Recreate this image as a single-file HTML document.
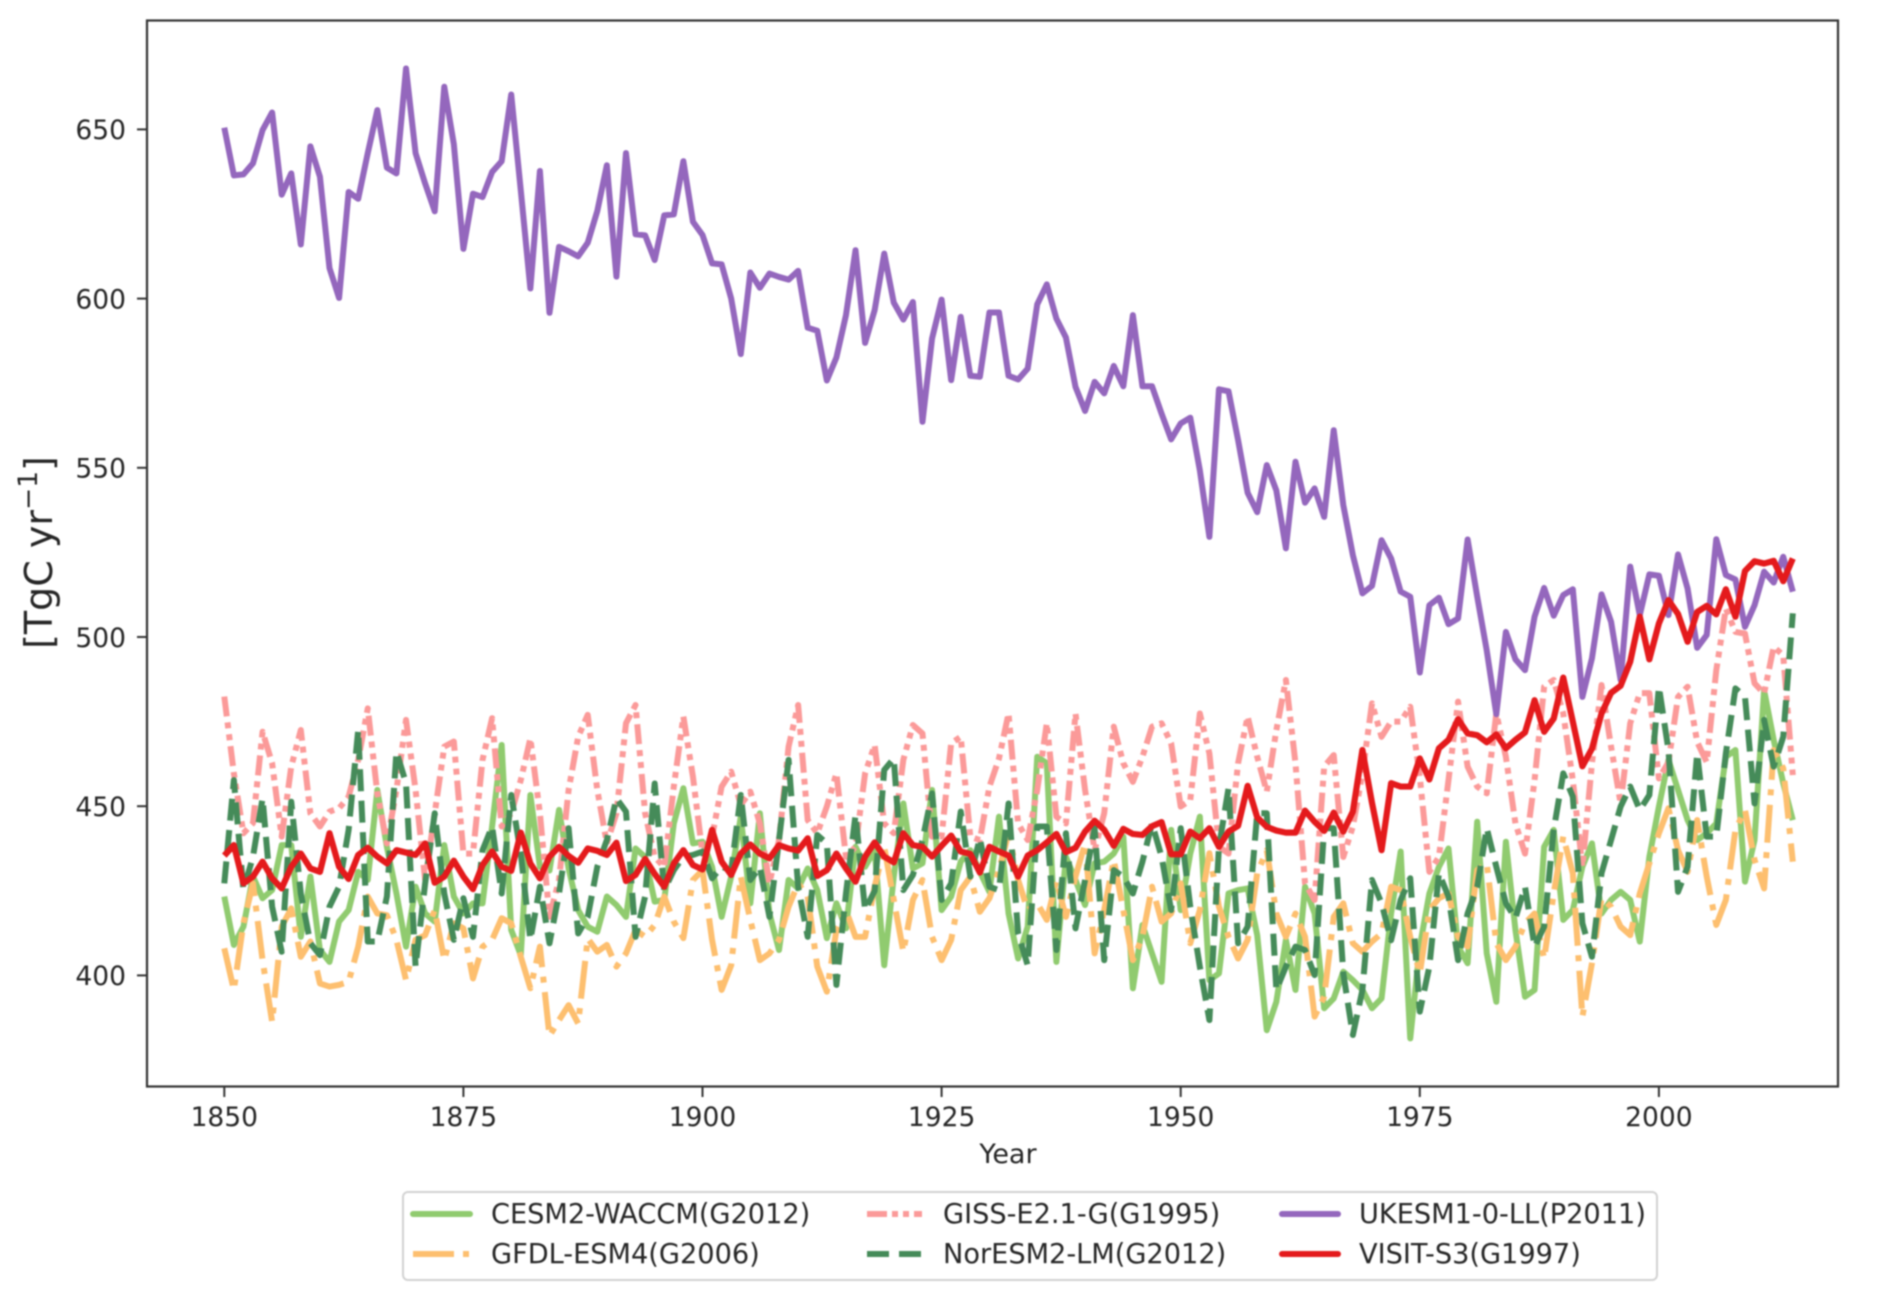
<!DOCTYPE html>
<html lang="en">
<head>
<meta charset="utf-8">
<title>Model comparison 1850-2014</title>
<style>
html,body{margin:0;padding:0;background:#fff;width:1892px;height:1301px;overflow:hidden}
svg{display:block;filter:blur(0.7px)}
text{font-family:"DejaVu Sans","Liberation Sans",sans-serif;fill:#262626}
</style>
</head>
<body>
<svg id="chart" xmlns="http://www.w3.org/2000/svg" width="1892" height="1301" viewBox="0 0 1892 1301">
  <rect x="0" y="0" width="1892" height="1301" fill="#ffffff"/>
  <g id="series-layer"></g>
  <rect x="147" y="20.5" width="1691" height="1066" fill="none" stroke="#333" stroke-width="2.2"/>
  <g id="ticks-layer"></g>
  <text x="1008" y="1163" font-size="27" text-anchor="middle">Year</text>
  <text transform="translate(52,552.5) rotate(-90)" font-size="38" text-anchor="middle">[TgC yr<tspan dy="-15" font-size="26.5">−1</tspan><tspan dy="15">]</tspan></text>
  <g>
    <rect x="403" y="1192" width="1254" height="88" rx="5" fill="#fff" stroke="#d2d2d2" stroke-width="2"/>
    <g>
      <line x1="413" x2="470" y1="1214" y2="1214" stroke="#90cb6f" stroke-width="6" stroke-linecap="round"/>
      <text x="491" y="1223" font-size="27.2">CESM2-WACCM(G2012)</text>
    </g>
    <g>
      <line x1="413" x2="470" y1="1254" y2="1254" stroke="#fdbf6f" stroke-width="6" stroke-dasharray="41 9 6 9"/>
      <text x="491" y="1263" font-size="27.2">GFDL-ESM4(G2006)</text>
    </g>
    <g>
      <line x1="867" x2="922" y1="1214" y2="1214" stroke="#fb9a99" stroke-width="6" stroke-dasharray="20 5 6 5 6 5"/>
      <text x="943" y="1223" font-size="27.2">GISS-E2.1-G(G1995)</text>
    </g>
    <g>
      <line x1="867" x2="922" y1="1254" y2="1254" stroke="#458b59" stroke-width="6" stroke-dasharray="22 10"/>
      <text x="943" y="1263" font-size="27.2">NorESM2-LM(G2012)</text>
    </g>
    <g>
      <line x1="1282" x2="1338" y1="1214" y2="1214" stroke="#9467bd" stroke-width="6" stroke-linecap="round"/>
      <text x="1359" y="1223" font-size="27.2">UKESM1-0-LL(P2011)</text>
    </g>
    <g>
      <line x1="1282" x2="1338" y1="1254" y2="1254" stroke="#e41a1c" stroke-width="6" stroke-linecap="round"/>
      <text x="1359" y="1263" font-size="27.2">VISIT-S3(G1997)</text>
    </g>
  </g>
</svg>
<script>
var startYear = 1850;
var xTickLabels = [1850, 1875, 1900, 1925, 1950, 1975, 2000];
var yTickLabels = [400, 450, 500, 550, 600, 650];

var cesm2Waccm = [
423.3,409,414.4,429.2,422.8,425.2,438.5,438.5,411.4,429.2,
407.5,404,415.9,419.3,430.6,428.2,454.8,438,424.2,408.5,
426.2,418.3,415.9,438.5,423.3,418.3,421.3,421.3,444,468.1,
413.4,406,453.3,432.1,431,448.9,431.6,419.3,414.4,412.9,
423.3,420.8,417.3,437.5,435,421.8,422.3,444.9,455.3,439,
439.5,432.1,417.3,429.2,446.9,421.3,447.9,418.3,407.5,428.2,
425.7,431.6,425.2,411,421.3,413.9,438,432.1,437,403,
429.2,450.8,431.6,433.1,454.8,419.3,423.3,433.6,437,430.6,
424.7,446.9,418.3,405,414.4,464.6,462.7,404,435,428.2,
420.8,433.1,433.6,436,441,396.2,414.9,406.5,398.1,443,
419.3,436,446.9,398.6,400.6,424.2,425.2,425.7,411.9,383.8,
392.2,410.5,395.7,426.2,418.3,390.3,393.2,401.1,398.6,395.7,
390.3,393.2,418.3,436.6,381.4,408.5,424.2,432.1,437.5,408.5,
403.6,445.4,406.5,392.2,439.5,413.4,393.7,395.7,438,443,
416.4,419.3,432.1,439,418.3,422.3,424.7,422.3,410,435,
449.9,463.7,454.8,445.9,440,442,444.9,464.6,466.6,427.7,
440,484.3,469.6,456.8,445.9];

var gfdlEsm4 = [
408,395.7,415.4,427.2,404.5,386.3,414.4,419.8,405.5,410,
397.6,396.7,397.2,398.1,408.5,423.3,418.3,417.8,410.5,398.6,
410.5,411.9,419.3,404.5,415.4,413.9,399.1,408.5,410.5,416.9,
415.4,405.5,396.2,408.5,382.1,386.8,391.2,385.8,410.9,407,
409,402.6,406.5,413.4,411.4,414.9,423.3,415.9,411,428.2,
431.1,410.5,395.7,403,429.2,416.4,404.5,406.5,410.5,420.3,
427.2,423.3,402.6,395.2,413.4,419.3,411.4,411.4,426.2,438,
422.3,407,422.3,428.2,411.4,404.5,410.5,425.2,429.1,418.8,
422.8,431.1,442,428.2,419.3,421.3,416.4,428,417.3,429.2,
439,406.5,419.3,434.1,419.3,404.5,411.4,426.2,415.9,418.3,
427.2,409.5,419.3,436.1,420.3,411.4,405,410.5,430.2,437,
418.3,411.4,418.3,411.4,387.8,393.7,417.3,421.3,409.5,407,
410,412.4,426.2,425.2,411.4,400.6,419.3,422.8,424.2,411.4,
408.5,431.1,433.1,409.5,404.5,408.5,415.4,418.3,405,424.2,
441,430.2,387.8,403.6,422.8,420.3,414.4,411.9,424.2,433.1,
442,449.4,437,430.6,445.9,429.2,414.9,422.3,443,448.9,
434.1,425.7,466.6,461.2,433.6];

var gissE21G = [
482.4,459.7,442,445,472,462.7,441,461.7,472.5,447.9,
444,448.4,449.4,452.8,463.7,478.9,453.8,439,454.8,475.5,
454.8,428.2,447.9,467.6,469.1,436,436,463.7,476,444,
447.9,457.7,470,447.9,417.3,428.2,454.8,470.5,477,454.8,
439,447.9,474.5,479.9,447.9,435,432,455.8,476.5,458.7,
436,441,455.8,460.2,450.4,454.3,444.9,427.2,440,467.6,
479.9,445.9,442,449.9,459.7,435,438,459.7,468.1,444.9,
442,463.7,474,471.5,441,441,468.6,470.5,441,440,
455.8,464.1,477.4,444.9,440,454.8,474.5,446.9,444.9,477.4,
454.8,437,447.9,473.5,462.7,457.2,464.6,473.5,474.5,468.6,
449.9,451.8,477.4,465.6,438,436,462.7,476.5,464.6,454.3,
472.5,487.3,462.7,427.2,422.3,461.7,465.1,435,444,459.7,
480.4,470.5,475,475,479.4,458.7,430.6,435,457.7,480.9,
461.7,455.8,453.8,477.4,464.6,444.9,436,457.7,485.3,487.3,
477.4,457.7,432.1,462.7,485.8,467.6,450.8,474.5,483.4,483.4,
458.2,463,482.3,485.3,469,463,490.2,508.4,501.5,501,
486.3,483.3,497.1,494.6,459.2];

var norEsm2Lm = [
427.2,457.7,425.2,435.1,452.3,420.3,407,451.3,424.2,409.5,
406,420.3,426.2,443,472.5,410,410,423.3,466.1,456.8,
402.6,427.2,447.9,424.2,410.5,422.8,411.4,437,444,424.2,
453.3,436,410.5,426.2,409.5,424.2,443.5,412.4,417.3,432.1,
440,452.3,448.4,411.4,423.3,456.7,425.2,431.1,435.1,435.6,
436.6,428.7,432.1,431,453.3,428.2,432,417.3,440,463.7,
426.2,411.4,441.5,439,397.2,424.2,447.4,419.3,425,460.7,
464.1,425.2,429.7,440,453.8,422.3,427.2,448.4,429.2,440.5,
426.2,425.2,450.8,412.4,403,444,444,407.5,442,413.9,
428.2,443.5,404.5,431.1,429.2,424.2,433.6,444.9,435.1,419.3,
443.5,420.3,402.6,386.8,438,455.3,409.5,414.4,447.9,447.9,
395.7,402.6,408.5,407.5,400.1,443.5,443.5,400.6,382.4,395.7,
428.2,421.3,410.4,422.3,428.7,389.3,402.6,430.2,423.3,404.5,
418.3,426.2,443.5,432.1,421.3,416.9,426.2,408.5,414.4,443,
459.7,452.8,415.4,405.5,430.2,440,449.9,455.8,448.9,453.3,
485.3,466.6,424.7,432.1,465.6,441,441,465.6,484.8,482.4,
450.8,475.5,461.7,470.5,507];

var ukesm10Ll = [
650.5,636.4,636.7,640,649.8,655,630.7,637,616,645,
636,609,600.2,631.5,629.5,643,655.7,638.7,637,668,
643,634,625.8,662.6,645.6,614.7,631,630,637.4,640.6,
660.3,632,603,637.7,595.8,615.3,614,612.5,616.5,625.9,
639.4,606.5,643,619,618.7,611.4,624.6,624.9,640.6,622.7,
618.8,610.4,610.1,600,583.6,607.7,603.2,607.4,606.4,605.6,
608.2,591.4,590.5,575.8,582.6,595.1,614.3,586.9,596.6,613.3,
598.8,593.8,599,563.6,588.2,599.7,575.9,594.6,577.2,576.9,
595.9,595.9,577.2,576.1,579.3,598.3,604.2,594.1,588.5,573.9,
566.8,575.4,572,580.1,574.1,595.1,574.1,574.1,566,558.4,
563.1,564.8,549.3,529.6,573.2,572.6,558.2,542.6,536.9,550.8,
543.3,526.2,551.8,539.7,543.9,535.5,561.1,539,524.2,512.9,
515.1,528.6,523.2,513.4,511.9,489.5,509.4,511.6,503.8,505.5,
528.8,512,496,477.2,501.5,493.4,490.2,506,514.5,506.3,
512.4,514.1,482.3,493.7,512.6,504.5,487.3,520.8,506.5,518.5,
518.1,506.5,524.4,514.3,496.8,500.6,528.9,518.3,517,503,
509.4,519.3,516.1,523.7,513.4];

var visitS3 = [
435.4,438.5,427.2,429.2,433.6,428.7,425.7,432.1,436,431.6,
430.6,442,432.1,428.5,435.6,437.7,435.1,433.1,437,436.3,
435.6,439,427.4,429.2,433.9,429.2,425.5,432.6,436.6,432.1,
430.9,442.2,433.1,428.7,435.1,438,435.3,433.3,437.5,436.8,
435.6,439.2,427.9,429.7,434.4,430,426.2,433.1,437,432.6,
431.3,443,433.6,429.7,436,438.7,436,434.6,438.5,437.5,
436.9,440.5,429.4,431.1,436,431.6,427.7,435.1,439.3,435.1,
433.4,442,438.5,438,435.1,438.3,441.3,436.6,435.9,430.4,
438,436.6,435.4,429.2,435.4,437,439.3,441.8,436.4,437.7,
442.5,445.7,443,438.3,443.3,441.8,441.5,444.1,445.3,435.8,
435.8,442.5,440.5,443.5,438,442.5,444.2,456,446.7,443.9,
442.8,442.2,442.2,448.7,445.4,442.7,448.1,442.5,448.4,466.6,
451,437,456.8,455.8,455.8,464.1,457.9,467.1,469.6,475.7,
471.5,471,468.9,471.2,467.1,469.6,471.8,481.3,472,475.9,
488,475,461.8,467,477.4,483.5,485.6,492.7,506,493.4,
504,510.9,506.8,498.6,507.4,509.2,506.7,514.1,506,519.5,
522.4,521.7,522.5,516.5,523.2];

var NS = 'http://www.w3.org/2000/svg';

function xScale(year) { return 224.3 + (year - 1850) * 9.564; }
function yScale(value) { return 637 - (value - 500) * 3.384; }

function drawSeries(values, name, color, width, dash) {
  var layer = document.getElementById('series-layer');
  var pts = [];
  for (var i = 0; i < values.length; i++) {
    pts.push(xScale(startYear + i).toFixed(2) + ',' + yScale(values[i]).toFixed(2));
  }
  var line = document.createElementNS(NS, 'polyline');
  
  
  line.setAttribute('points', pts.join(' '));
  line.setAttribute('fill', 'none');
  line.setAttribute('stroke', color);
  line.setAttribute('stroke-width', width);
  line.setAttribute('stroke-linejoin', 'round');
  if (dash) { line.setAttribute('stroke-dasharray', dash); }
  layer.appendChild(line);
}

drawSeries(cesm2Waccm, 'series-cesm2-waccm', '#90cb6f', 6, null);
drawSeries(gfdlEsm4, 'series-gfdl-esm4', '#fdbf6f', 6, '38 9.5 6 9.5');
drawSeries(gissE21G, 'series-giss-e21-g', '#fb9a99', 6, '20 6 6 6 6 6');
drawSeries(norEsm2Lm, 'series-noresm2-lm', '#458b59', 6, '22 9.5');
drawSeries(ukesm10Ll, 'series-ukesm1-0-ll', '#9467bd', 6, null);
drawSeries(visitS3, 'series-visit-s3', '#e41a1c', 6.2, null);

var ticks = document.getElementById('ticks-layer');
xTickLabels.forEach(function (year) {
  var px = xScale(year);
  var tick = document.createElementNS(NS, 'line');
  
  
  tick.setAttribute('x1', px); tick.setAttribute('x2', px);
  tick.setAttribute('y1', 1087); tick.setAttribute('y2', 1097);
  tick.setAttribute('stroke', '#333'); tick.setAttribute('stroke-width', 2);
  ticks.appendChild(tick);
  var label = document.createElementNS(NS, 'text');
  
  
  label.setAttribute('x', px); label.setAttribute('y', 1126);
  label.setAttribute('font-size', 26.5);
  label.setAttribute('text-anchor', 'middle');
  label.textContent = String(year);
  ticks.appendChild(label);
});
yTickLabels.forEach(function (value) {
  var py = yScale(value);
  var tick = document.createElementNS(NS, 'line');
  
  
  tick.setAttribute('x1', 137); tick.setAttribute('x2', 147);
  tick.setAttribute('y1', py); tick.setAttribute('y2', py);
  tick.setAttribute('stroke', '#333'); tick.setAttribute('stroke-width', 2);
  ticks.appendChild(tick);
  var label = document.createElementNS(NS, 'text');
  
  
  label.setAttribute('x', 126); label.setAttribute('y', py + 9.8);
  label.setAttribute('font-size', 26.5);
  label.setAttribute('text-anchor', 'end');
  label.textContent = String(value);
  ticks.appendChild(label);
});
</script>
</body>
</html>
